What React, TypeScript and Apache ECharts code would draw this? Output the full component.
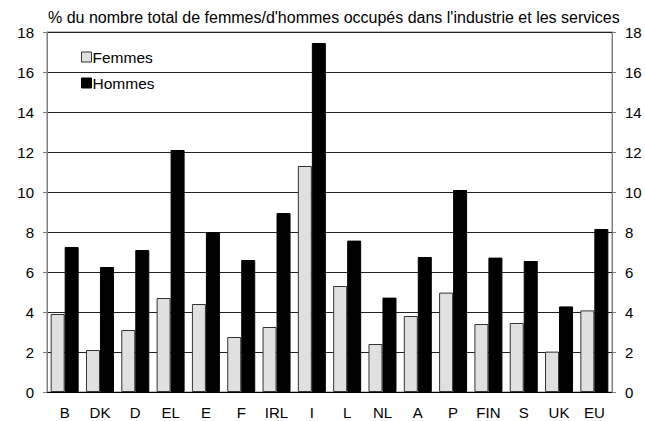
import React, { useEffect, useRef } from "react";
import * as echarts from "echarts";

const categories = ["B", "DK", "D", "EL", "E", "F", "IRL", "I", "L", "NL", "A", "P", "FIN", "S", "UK", "EU"];
const femmes = [3.9, 2.1, 3.1, 4.7, 4.4, 2.75, 3.25, 11.3, 5.3, 2.4, 3.8, 4.97, 3.4, 3.45, 2.02, 4.08];
const hommes = [7.25, 6.25, 7.1, 12.1, 8.0, 6.6, 8.95, 17.45, 7.57, 4.72, 6.75, 10.1, 6.72, 6.55, 4.28, 8.15];
const subtitle = "% du nombre total de femmes/d'hommes occupés dans l'industrie et les services";

const FONT = "'Liberation Sans', Arial, sans-serif";

export default function App() {
  const ref = useRef<HTMLDivElement>(null);
  useEffect(() => {
    if (!ref.current) return;
    const chart = echarts.init(ref.current, undefined, { renderer: "svg" });
    const axisLabel = { color: "#000", fontSize: 15, fontFamily: FONT };
    chart.setOption({
      animation: false,
      textStyle: { fontFamily: FONT },
      title: {
        text: subtitle,
        left: 48,
        top: 9,
        padding: 0,
        textStyle: { fontSize: 16, fontWeight: "normal", color: "#000", fontFamily: FONT },
      },
      legend: {
        orient: "vertical",
        left: 81,
        top: 49,
        padding: 0,
        itemWidth: 10,
        itemHeight: 10,
        itemGap: 10,
        icon: "rect",
        textStyle: { fontSize: 15.5, lineHeight: 14, color: "#000", fontFamily: FONT, padding: [0, 0, 0, -4] },
        data: [
          { name: "Femmes", itemStyle: { color: "#e0e0e0", borderColor: "#333", borderWidth: 1 } },
          { name: "Hommes", itemStyle: { color: "#000", borderColor: "#000", borderWidth: 1 } },
        ],
      },
      grid: {
        left: 47,
        right: 33,
        top: 32,
        bottom: 29,
        show: true,
        borderColor: "#808080",
        borderWidth: 1,
        containLabel: false,
      },
      xAxis: {
        type: "category",
        data: categories,
        axisLine: { show: true, lineStyle: { color: "#000" } },
        axisTick: { show: false },
        axisLabel: { ...axisLabel, margin: 13 },
      },
      yAxis: [
        {
          type: "value",
          min: 0,
          max: 18,
          interval: 2,
          position: "left",
          axisLine: { show: true, lineStyle: { color: "#808080" } },
          axisTick: { show: true, length: 4, lineStyle: { color: "#808080" } },
          axisLabel: { ...axisLabel, margin: 13 },
          splitLine: { show: true, lineStyle: { color: "#222", width: 1 } },
        },
        {
          type: "value",
          min: 0,
          max: 18,
          interval: 2,
          position: "right",
          axisLine: { show: true, lineStyle: { color: "#808080" } },
          axisTick: { show: true, length: 4, lineStyle: { color: "#808080" } },
          axisLabel: { ...axisLabel, margin: 13 },
          splitLine: { show: false },
        },
      ],
      series: [
        {
          name: "Femmes",
          type: "bar",
          data: femmes,
          barWidth: 14,
          barGap: "0%",
          itemStyle: { color: "#e0e0e0", borderColor: "#333", borderWidth: 1 },
        },
        {
          name: "Hommes",
          type: "bar",
          data: hommes,
          barWidth: 14,
          barGap: "0%",
          itemStyle: { color: "#000", borderColor: "#000", borderWidth: 1 },
        },
      ],
    });
    return () => chart.dispose();
  }, []);
  return (
    <div
      ref={ref}
      style={{ width: 645, height: 421, position: "fixed", left: 0, top: 0, background: "#fff" }}
    />
  );
}
